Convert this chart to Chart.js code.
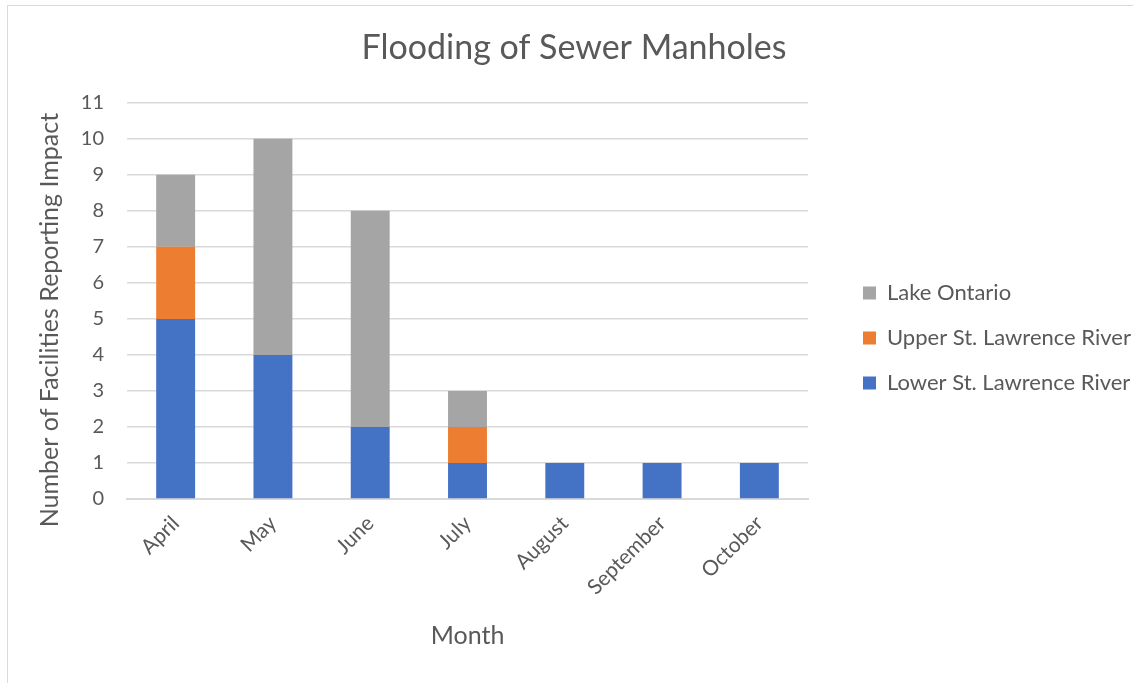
<!DOCTYPE html>
<html>
<head>
<meta charset="utf-8">
<script src="https://cdn.jsdelivr.net/npm/chart.js@4"></script>
<style>
  html, body { margin: 0; padding: 0; background: #fff; }
  #wrap { position: relative; width: 1133px; height: 683px; overflow: hidden; }
  #frame { position: absolute; left: 7px; top: 5px; width: 1140px; height: 700px; border: 1px solid #d9d9d9; box-sizing: border-box; }
  canvas { position: absolute; left: 0; top: 0; }
</style>
</head>
<body>
<div id="wrap">
  <div id="frame"></div>
  <canvas id="myChart" width="1133" height="683"></canvas>
</div>
<script>
const months = ["April", "May", "June", "July", "August", "September", "October"];
const lowerRiver = [5, 4, 2, 1, 1, 1, 1];
const upperRiver = [2, 0, 0, 1, 0, 0, 0];
const lakeOntario = [2, 6, 6, 1, 0, 0, 0];
const yTicks = [0, 11];

const font = "Lato, 'Open Sans', sans-serif";
const grey = "#595959";

// the legend box is wider than chart.js would allow on its own, so the long names are not clipped
const wideLegend = {
  id: "wideLegend",
  beforeLayout(chart) {
    const legend = chart.legend;
    if (!legend || legend.wide) return;
    const fit = legend.fit;
    legend.fit = function () {
      fit.call(this);
      this.width = 293;
    };
    legend.wide = true;
  },
};

const ctx = document.getElementById("myChart");
new Chart(ctx, {
  type: "bar",
  data: {
    labels: months,
    datasets: [
      { label: "Lower St. Lawrence River", data: lowerRiver, backgroundColor: "#4472C4" },
      { label: "Upper St. Lawrence River", data: upperRiver, backgroundColor: "#ED7D31" },
      { label: "Lake Ontario", data: lakeOntario, backgroundColor: "#A5A5A5" },
    ],
  },
  plugins: [wideLegend],
  options: {
    responsive: false,
    animation: false,
    barPercentage: 0.8,
    categoryPercentage: 0.5,
    layout: { padding: { left: 15, right: 0, top: 5, bottom: 32 } },
    plugins: {
      title: {
        display: true,
        text: "Flooding of Sewer Manholes",
        color: grey,
        font: { family: font, size: 34, weight: "normal" },
        padding: { top: 23, bottom: 34 },
      },
      legend: {
        position: "right",
        reverse: true,
        title: { display: true, text: " ", padding: 4, font: { size: 10 } },
        labels: {
          color: grey,
          boxWidth: 13,
          boxHeight: 13,
          padding: 23,
          font: { family: font, size: 22 },
        },
      },
      tooltip: { enabled: false },
    },
    scales: {
      x: {
        stacked: true,
        grid: { display: false },
        border: { color: "#d9d9d9", width: 2 },
        ticks: { color: grey, minRotation: 45, maxRotation: 45, padding: 4, font: { family: font, size: 21 } },
        title: { display: true, text: "Month", color: grey, font: { family: font, size: 25 }, padding: { top: 0, bottom: 0 } },
        afterFit: (scale) => { scale.height = 152; },
      },
      y: {
        stacked: true,
        min: yTicks[0],
        max: yTicks[1],
        ticks: { stepSize: 1, color: grey, padding: 23, font: { family: font, size: 20 } },
        grid: { color: "#d9d9d9", lineWidth: 1.5, drawTicks: false },
        border: { display: false },
        title: { display: true, text: "Number of Facilities Reporting Impact      ", color: grey, font: { family: font, size: 25 }, padding: { top: 20, bottom: 0 } },
        afterFit: (scale) => { scale.width = 112; },
      },
      gap: {
        display: false,
        position: "right",
        min: yTicks[0],
        max: yTicks[1],
        afterFit: (scale) => { scale.width = 32; },
      },
    },
  },
});
</script>
</body>
</html>
